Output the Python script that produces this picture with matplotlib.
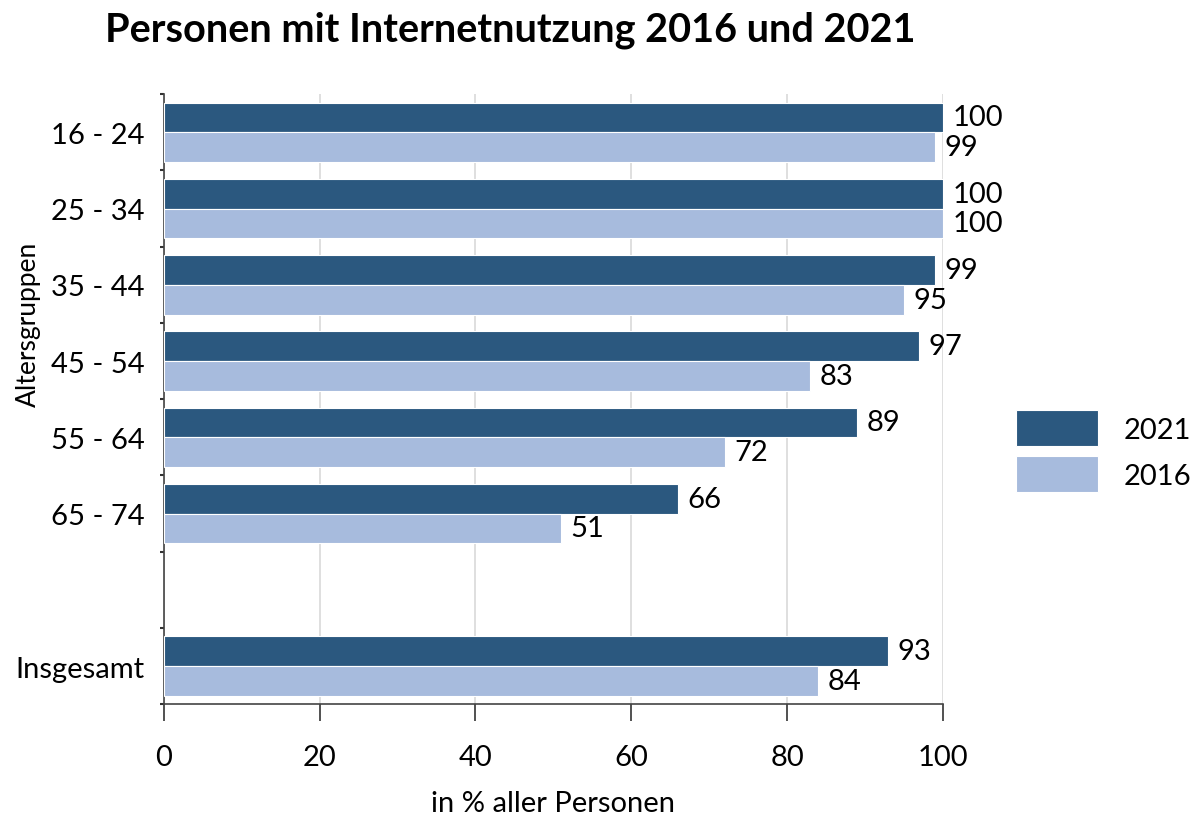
import numpy as np
import matplotlib.pyplot as plt

plt.rcParams['font.family'] = ['Lato', 'DejaVu Sans']

categories = ["16 - 24", "25 - 34", "35 - 44", "45 - 54", "55 - 64", "65 - 74", "", "Insgesamt"]
werte_2021 = [100, 100, 99, 97, 89, 66, None, 93]
werte_2016 = [99, 100, 95, 83, 72, 51, None, 84]
x_ticks = [0, 20, 40, 60, 80, 100]

dunkel = "#2B587F"
hell = "#A7BBDD"

fig = plt.figure(figsize=(11.95, 8.2), dpi=100)
ax = fig.add_axes([0.137, 0.140, 0.652, 0.744])

pos = np.arange(len(categories))
h = 0.39
idx = [i for i, v in enumerate(werte_2021) if v is not None]
v21 = [werte_2021[i] for i in idx]
v16 = [werte_2016[i] for i in idx]
p = pos[idx]

b1 = ax.barh(p - h / 2, v21, height=h, color=dunkel, edgecolor="white", linewidth=0.8, label="2021", zorder=3)
b2 = ax.barh(p + h / 2, v16, height=h, color=hell, edgecolor="white", linewidth=0.8, label="2016", zorder=3)

for bars, vals in ((b1, v21), (b2, v16)):
    for bar, v in zip(bars, vals):
        ax.text(v + 1.2, bar.get_y() + bar.get_height() / 2, str(v),
                va="center", ha="left", fontsize=21, color="black")

ax.set_xlim(0, 100)
ax.set_ylim(len(categories) - 0.5, -0.5)
ax.set_xticks(x_ticks)
ax.tick_params(axis="x", labelsize=21, length=12, width=1.2, pad=17, color="#333333")
ax.set_yticks(pos)
ax.set_yticklabels(categories)
ax.tick_params(axis="y", which="major", length=0, labelsize=21, pad=14)
ax.set_yticks(np.arange(-0.5, len(categories), 1), minor=True)
ax.tick_params(axis="y", which="minor", length=3, width=1.5, color="#333333")

ax.grid(axis="x", color="#D9D9D9", linewidth=1.2, zorder=0)
for s in ("top", "right"):
    ax.spines[s].set_visible(False)
for s in ("left", "bottom"):
    ax.spines[s].set_color("#444444")
    ax.spines[s].set_linewidth(1.2)

ax.set_xlabel("in % aller Personen", fontsize=21, labelpad=14)
fig.text(0.024, 0.605, "Altersgruppen", rotation=90, fontsize=19, ha="center", va="center")
fig.text(0.427, 0.963, "Personen mit Internetnutzung 2016 und 2021", fontsize=28.5,
         fontweight="bold", ha="center", va="center")

ax.legend(loc="center left", bbox_to_anchor=(1.06, 0.415), frameon=False, fontsize=21,
          handlelength=2.8, handleheight=1.5, labelspacing=0.35, handletextpad=0.9)

fig.savefig("out.png", dpi=100)
